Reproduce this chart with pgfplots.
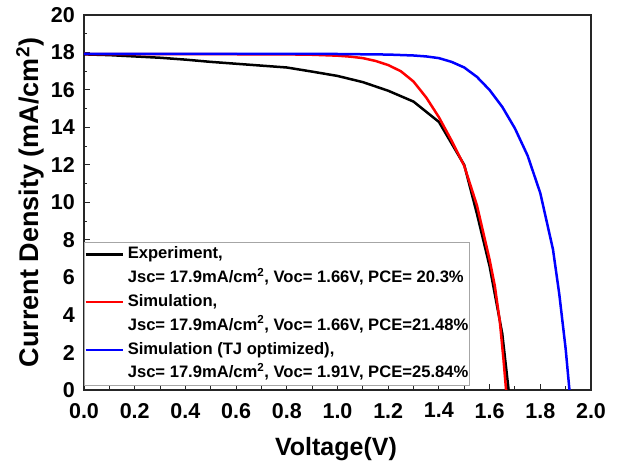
\documentclass[border=0pt]{standalone}
\usepackage{pgfplots}
\pgfplotsset{compat=1.18}
\usepackage{fontspec}
\setmainfont{Liberation Sans}
\begin{document}
\begin{tikzpicture}
\begin{axis}[
 at={(0,0)}, anchor=south west,
 width=507pt, height=375pt, scale only axis,
 xmin=0, xmax=2, ymin=0, ymax=20,
 xtick={0,0.2,0.4,0.6,0.8,1.0,1.2,1.4,1.6,1.8,2.0},
 ytick={0,2,4,6,8,10,12,14,16,18,20},
 minor x tick num=1, minor y tick num=1,
 xtick pos=bottom, ytick pos=left,
 tick align=inside,
 major tick length=6pt, minor tick length=3.5pt,
 axis line style={line width=1.3pt, draw=black!85},
 every tick/.style={line width=1pt, black!85},
 /pgf/number format/assume math mode=true,
 tick label style={font=\fontsize{21.5}{21.5}\selectfont\bfseries, inner sep=1pt},
 xticklabel style={yshift=-12pt, /pgf/number format/.cd, fixed, fixed zerofill, precision=1},
 yticklabel style={xshift=-8pt, /pgf/number format/.cd, fixed, precision=0},
 xlabel={Voltage(V)},
 ylabel={Current Density (mA/cm\textsuperscript{2})},
 every axis x label/.style={at={(axis description cs:0.497,-0.157)}, anchor=center, font=\fontsize{25}{25}\selectfont\bfseries},
 every axis y label/.style={at={(axis description cs:-0.1065,0.5)}, anchor=center, rotate=90, font=\fontsize{27}{27}\selectfont\bfseries},
 legend style={at={(axis description cs:0,0.011)}, anchor=south west,
   draw=gray!70, line width=0.6pt, fill=white,
   font=\fontsize{16.6}{16.6}\selectfont\bfseries,
   inner xsep=0pt, inner ysep=3pt, row sep=6.5pt, column sep=3pt,
   nodes={inner sep=1pt, text height=11.8pt, text depth=3.6pt},
   cells={anchor=west}},
 legend image code/.code={\draw[#1, line width=2.5pt] (0pt,0pt) -- (37pt,0pt);},
]
\addplot[black, line width=2.5pt] coordinates {
(0,17.9) (0.1,17.86) (0.2,17.79) (0.3,17.72) (0.4,17.62) (0.5,17.5) (0.6,17.4) (0.7,17.3) (0.8,17.2) (0.9,16.98) (1.0,16.75) (1.1,16.42) (1.2,15.96) (1.3,15.38) (1.4,14.3) (1.5,12.0) (1.55,9.4) (1.6,6.6) (1.65,3.0) (1.675,0)};
\addlegendentry{Experiment,}
\addlegendimage{empty legend}
\addlegendentry{Jsc= 17.9mA/cm\textsuperscript{2}, Voc= 1.66V, PCE= 20.3\%}
\addplot[red, line width=2.5pt] coordinates {
(0,17.92) (0.5,17.91) (0.8,17.9) (0.9,17.88) (1.0,17.83) (1.05,17.78) (1.1,17.7) (1.15,17.55) (1.2,17.33) (1.25,17.0) (1.3,16.45) (1.35,15.6) (1.4,14.55) (1.45,13.3) (1.5,11.95) (1.55,9.85) (1.6,6.95) (1.62,5.6) (1.64,3.7) (1.655,1.6) (1.665,0)};
\addlegendentry{Simulation,}
\addlegendimage{empty legend}
\addlegendentry{Jsc= 17.9mA/cm\textsuperscript{2}, Voc= 1.66V, PCE=21.48\%}
\addplot[blue, line width=2.5pt] coordinates {
(0,17.93) (0.5,17.93) (1.0,17.92) (1.2,17.89) (1.3,17.84) (1.35,17.79) (1.4,17.7) (1.45,17.5) (1.5,17.2) (1.55,16.7) (1.6,16.0) (1.65,15.1) (1.7,13.95) (1.75,12.5) (1.8,10.5) (1.85,7.5) (1.875,5.1) (1.9,2.2) (1.915,0)};
\addlegendentry{Simulation (TJ optimized),}
\addlegendimage{empty legend}
\addlegendentry{Jsc= 17.9mA/cm\textsuperscript{2}, Voc= 1.91V, PCE=25.84\%}
\end{axis}
\pgfresetboundingbox
\useasboundingbox (-84pt,-79pt) rectangle (546pt,390pt);
\end{tikzpicture}
\end{document}
